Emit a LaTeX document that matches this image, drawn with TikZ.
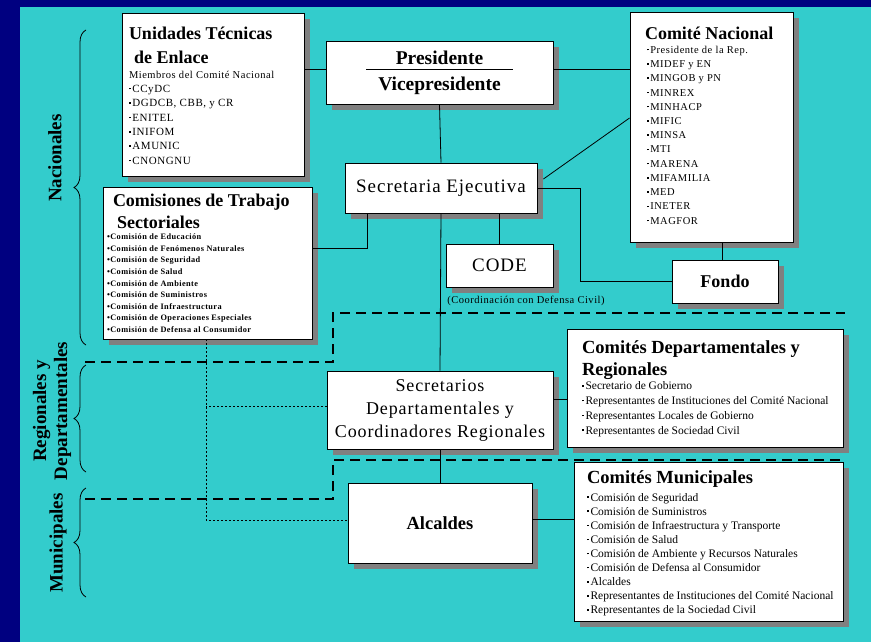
\documentclass[tikz,border=0pt]{standalone}
\usepackage{fontspec}
\setmainfont{Liberation Serif}
\newfontfamily\espaciado{Liberation Serif}[LetterSpace=5]
\usetikzlibrary{positioning,calc,shadows,decorations.pathreplacing}
\definecolor{marco}{RGB}{0,0,128}
\definecolor{turquesa}{RGB}{51,204,204}
\definecolor{sombra}{RGB}{128,128,128}
\newcommand{\fs}[2]{\fontsize{#1}{#2}\selectfont}
\newcommand{\itm}{\raisebox{0.6ex}{\rule{1.6pt}{1.6pt}}\,}
\newcommand{\lista}[5]{\parbox[c][#2][t]{#1}{\raggedright\leftskip=#3\rule{0pt}{#4}#5}}
\begin{document}
\begin{tikzpicture}[x=1pt, y=-1pt,
      caja/.style = {
        rectangle, draw=black, line width=0.9pt, fill=white, inner sep=0pt,
        drop shadow={shadow xshift=6pt, shadow yshift=-6pt, fill=sombra, opacity=1} },
      linea/.style = { draw, line width=0.8pt },
      punteada/.style = { draw, line width=0.8pt, dash pattern=on 2pt off 2pt },
      division/.style = { draw, line width=2.5pt, dash pattern=on 10pt off 6pt },
      llave/.style = { draw, line width=0.8pt, decorate, decoration={brace, amplitude=12pt} },
      nivel/.style = { rotate=90, font=\bfseries\fs{19}{21}, align=center }]
    \useasboundingbox (0,0) rectangle (871,642);
    \fill[marco] (0,0) rectangle (871,642);
    \fill[turquesa] (20,7) rectangle (871,642);
    % niveles
    \node[nivel] (nacionales) at (55,158) {Nacionales};
    \node[nivel] (regionales) at (52,411) {Regionales y\\Departamentales};
    \node[nivel] (municipales) at (58,543) {Municipales};
    \draw[llave] (86,345) -- (86,30);
    \draw[llave] (86,472) -- (86,365);
    \draw[llave] (86,597) -- (86,488);
    % separaciones
    \draw[division] (85,362) -| (333,313) -- (845,313);
    \draw[division] (85,499) -| (333,460) -- (845,460);
    % cajas
    \node[caja] (unidades) at (213,94.5) {\lista{182pt}{163pt}{7pt}{26pt}{%
      {\bfseries\fs{18}{24}Unidades Técnicas\\\hspace*{5pt}de Enlace\par}
      {\espaciado\fs{10.5}{15}Miembros del Comité Nacional\par}
      {\espaciado\fs{11}{14.4}\itm CCyDC\\\itm DGDCB, CBB, y CR\\\itm ENITEL\\\itm INIFOM\\\itm AMUNIC\\\itm CNONGNU\par}}};
    \node[caja, minimum width=227pt, minimum height=63pt, align=center,
      font=\bfseries\fs{19.5}{26}] (presi) at (439.5,72.5) {Presidente\\Vicepresidente};
    \node[caja, minimum width=192pt, minimum height=50pt, font=\espaciado\fs{19}{23}] (secej) at (441,188) {Secretaria Ejecutiva};
    \node[caja, minimum width=107pt, minimum height=43pt, font=\espaciado\fs{19}{23}] (code) at (499.5,265.5) {CODE};
    \node[font=\espaciado\fs{10.5}{12}] (nota) at (526,301) {(Coordinación con Defensa Civil)};
    \node[caja] (comnac) at (711.5,127) {\lista{163pt}{230pt}{17pt}{27pt}{%
      {\bfseries\fs{18}{24}\hspace*{-2pt}Comité Nacional\par}
      {\espaciado\fs{10.5}{14.25}\itm Presidente de la Rep.\\\itm MIDEF y EN\\\itm MINGOB y PN\\\itm MINREX\\
      \itm MINHACP\\\itm MIFIC\\\itm MINSA\\\itm MTI\\\itm MARENA\\\itm MIFAMILIA\\\itm MED\\
      \itm INETER\\\itm MAGFOR\par}}};
    \node[caja, minimum width=106pt, minimum height=43pt, font=\bfseries\fs{18}{22}] (fondo) at (725,281.5) {Fondo};
    \node[caja] (comisiones) at (207.5,263) {\lista{209pt}{152pt}{4pt}{19pt}{%
      {\bfseries\fs{18}{22}\hspace*{6pt}Comisiones de Trabajo\\\hspace*{10pt}Sectoriales\par}
      {\espaciado\bfseries\fs{8.3}{11.6}•Comisión de Educación\\•Comisión de Fenómenos Naturales\\
      •Comisión de Seguridad\\•Comisión de Salud\\•Comisión de Ambiente\\
      •Comisión de Suministros\\•Comisión de Infraestructura\\
      •Comisión de Operaciones Especiales\\•Comisión de Defensa al Consumidor\par}}};
    \node[caja] (comdep) at (705,388) {\lista{276pt}{118pt}{15pt}{24pt}{%
      {\bfseries\fs{18.5}{22}Comités Departamentales y\\Regionales\par}
      {\fs{11.5}{14.8}\itm Secretario de Gobierno\\\itm Representantes de Instituciones del Comité Nacional\\
      \itm Representantes Locales de Gobierno\\\itm Representantes de Sociedad Civil\par}}};
    \node[caja, minimum width=226pt, minimum height=78pt, align=center,
      font=\espaciado\fs{18}{23}] (secdep) at (440,410) {Secretarios\\Departamentales y\\Coordinadores Regionales};
    \node[caja, minimum width=184pt, minimum height=80pt, font=\bfseries\fs{18.5}{22}] (alcaldes) at (440,523) {Alcaldes};
    \node[caja] (commun) at (708.5,541.5) {\lista{269pt}{159pt}{13pt}{21pt}{%
      {\bfseries\fs{18.5}{22}Comités Municipales\par}\vspace{4pt}
      {\fs{11.5}{14.1}\itm Comisión de Seguridad\\\itm Comisión de Suministros\\
      \itm Comisión de Infraestructura y Transporte\\\itm Comisión de Salud\\
      \itm Comisión de Ambiente y Recursos Naturales\\\itm Comisión de Defensa al Consumidor\\
      \itm Alcaldes\\\itm Representantes de Instituciones del Comité Nacional\\
      \itm Representantes de la Sociedad Civil\par}}};
    % conexiones
    \draw[linea] ($(presi.center)+(-73.5,-3.5)$) -- ++(147,0);
    \draw[linea] ($(presi.west)+(0,-3.5)$) -- ($(unidades.east)+(0,-25.5)$);
    \draw[linea] ($(presi.east)+(0,-3.5)$) -- ($(comnac.west)+(0,-58)$);
    \draw[linea] (presi.south) -- (secej.north);
    \draw[linea] (secej.south) -- (secdep.north);
    \draw[linea] (secdep.south) -- (alcaldes.north);
    \draw[linea] ($(secej.east)+(6,-9)$) -- ($(comnac.west)+(0,-9)$);
    \draw[linea] (secej.east) -- ++(43,0) |- (fondo.west);
    \draw[linea] (fondo.north -| 722,0) -- (comnac.south -| 722,0);
    \draw[linea] (code.north) -- (code.north |- secej.south);
    \draw[linea] ($(secej.south west)+(23,0)$) |- ($(comisiones.east)+(0,-15)$);
    \draw[linea] ($(secdep.east)+(0,-11)$) -- ($(comdep.west)+(0,11)$);
    \draw[linea] ($(alcaldes.east)+(0,-4)$) -- ($(commun.west)+(0,-22.5)$);
    \draw[punteada] ($(comisiones.south)+(-1.5,0)$) |- ($(alcaldes.west)+(0,-3)$);
    \draw[punteada] ($(secdep.west)+(0,-4)$) -- ($(comisiones.south |- secdep.west)+(-1.5,-4)$);
\end{tikzpicture}
\end{document}
